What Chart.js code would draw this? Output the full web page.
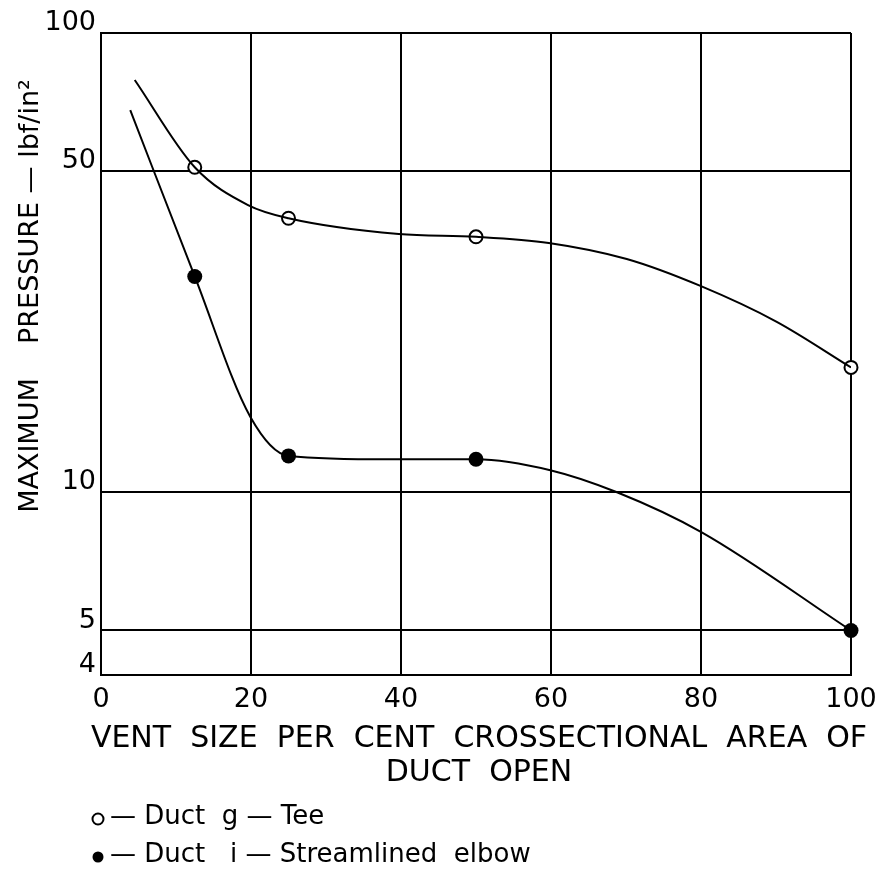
<!DOCTYPE html>
<html>
<head>
<meta charset="utf-8">
<script src="https://cdn.jsdelivr.net/npm/chart.js@4/dist/chart.umd.min.js"></script>
<style>
  html, body { margin: 0; padding: 0; background: #fff; }
  #wrap { width: 889px; height: 869px; }
</style>
</head>
<body>
<div id="wrap"><canvas id="c" width="889" height="869"></canvas></div>
<script>
// Measured points: vent size (% of duct cross-section) vs maximum pressure (lbf/in²)
const ventSizes = [12.5, 25, 50, 100];
const teePressure = [51, 39.5, 36, 18.7];
const elbowPressure = [29.5, 12, 11.8, 5];

// Faired curves drawn through the measurements
const teeCurveX = [4.5, 12.5, 19.6, 25, 39.7, 50, 59.7, 70.1, 80, 90.1, 100];
const teeCurveY = [79, 51, 42.2, 39.5, 36.5, 36, 34.9, 32.2, 28.1, 23.5, 18.7];
const elbowCurveX = [3.9, 12.5, 19.9, 25, 38.5, 50, 59.9, 68.8, 80.1, 100];
const elbowCurveY = [67.9, 29.5, 14.6, 12, 11.8, 11.8, 11.17, 10, 8.18, 5];

// Axis ticks and text
const xTicks = [0, 20, 40, 60, 80, 100];
const yTicks = [4, 5, 10, 50, 100];
const xTitle = ['VENT  SIZE  PER  CENT  CROSSECTIONAL  AREA  OF', 'DUCT  OPEN'];
const yTitle = 'MAXIMUM    PRESSURE — lbf/in²';
const legendLabels = ['— Duct  g — Tee', '— Duct   i — Streamlined  elbow'];

const FONT = '"DejaVu Sans"';
const INK = '#000';

const pairs = (xs, ys) => xs.map((x, i) => ({ x, y: ys[i] }));

// Axis titles (free-width, two-line x title) and the two-line key at the bottom
const annotations = {
  id: 'annotations',
  afterDraw(chart) {
    const ctx = chart.ctx;
    const area = chart.chartArea;

    ctx.save();
    ctx.fillStyle = INK;
    ctx.font = `27px ${FONT}`;
    ctx.translate(31, 296);
    ctx.rotate(-Math.PI / 2);
    ctx.textAlign = 'center';
    ctx.textBaseline = 'middle';
    ctx.fillText(yTitle, 0, 0);
    ctx.restore();

    ctx.save();
    ctx.fillStyle = INK;
    ctx.font = `30px ${FONT}`;
    ctx.textAlign = 'center';
    ctx.textBaseline = 'middle';
    const cx = (area.left + area.right) / 2 + 3;
    xTitle.forEach((line, i) => ctx.fillText(line, cx, area.bottom + 64 + i * 34));
    ctx.restore();

    ctx.save();
    ctx.fillStyle = INK;
    ctx.strokeStyle = INK;
    ctx.lineWidth = 2;
    ctx.font = `26px ${FONT}`;
    ctx.textAlign = 'left';
    ctx.textBaseline = 'middle';
    const rows = [817, 855];
    rows.forEach((y, i) => {
      ctx.beginPath();
      ctx.arc(98, y + 2, 5.5, 0, Math.PI * 2);
      if (i === 0) ctx.stroke(); else ctx.fill();
      ctx.fillText(legendLabels[i], 110, y);
    });
    ctx.restore();
  }
};

const curveStyle = {
  type: 'line',
  borderColor: INK,
  borderWidth: 2,
  pointRadius: 0,
  cubicInterpolationMode: 'monotone',
  fill: false
};

new Chart(document.getElementById('c'), {
  type: 'scatter',
  data: {
    datasets: [
      Object.assign({ label: 'Duct g — Tee (curve)', data: pairs(teeCurveX, teeCurveY) }, curveStyle),
      Object.assign({ label: 'Duct i — Streamlined elbow (curve)', data: pairs(elbowCurveX, elbowCurveY) }, curveStyle),
      {
        label: 'Duct g — Tee',
        data: pairs(ventSizes, teePressure),
        showLine: false,
        pointRadius: 6.5,
        pointBorderWidth: 2,
        pointBorderColor: INK,
        pointBackgroundColor: '#fff',
        clip: false
      },
      {
        label: 'Duct i — Streamlined elbow',
        data: pairs(ventSizes, elbowPressure),
        showLine: false,
        pointRadius: 7.5,
        pointBorderWidth: 0,
        pointBackgroundColor: INK,
        clip: false
      }
    ]
  },
  options: {
    responsive: false,
    animation: false,
    devicePixelRatio: 1,
    layout: { padding: { top: 33, right: 38, left: 0, bottom: 0 } },
    plugins: {
      legend: { display: false },
      tooltip: { enabled: false }
    },
    scales: {
      x: {
        type: 'linear',
        min: 0,
        max: 100,
        afterFit(scale) { scale.height = 194; },
        afterBuildTicks(scale) { scale.ticks = xTicks.map(v => ({ value: v })); },
        grid: { color: INK, lineWidth: 2, drawTicks: false },
        border: { color: INK, width: 2 },
        ticks: {
          color: INK,
          padding: 9,
          font: { family: FONT, size: 27, lineHeight: 1.2 },
          callback: v => String(v)
        }
      },
      y: {
        type: 'logarithmic',
        min: 4,
        max: 100,
        afterFit(scale) { scale.width = 101; },
        afterBuildTicks(scale) { scale.ticks = yTicks.map(v => ({ value: v, major: true })); },
        grid: { color: INK, lineWidth: 2, drawTicks: false },
        border: { color: INK, width: 2 },
        ticks: {
          color: INK,
          padding: 5,
          labelOffset: -10,
          font: { family: FONT, size: 27, lineHeight: 1.2 },
          callback: v => String(v)
        }
      }
    }
  },
  plugins: [annotations]
});
</script>
</body>
</html>
